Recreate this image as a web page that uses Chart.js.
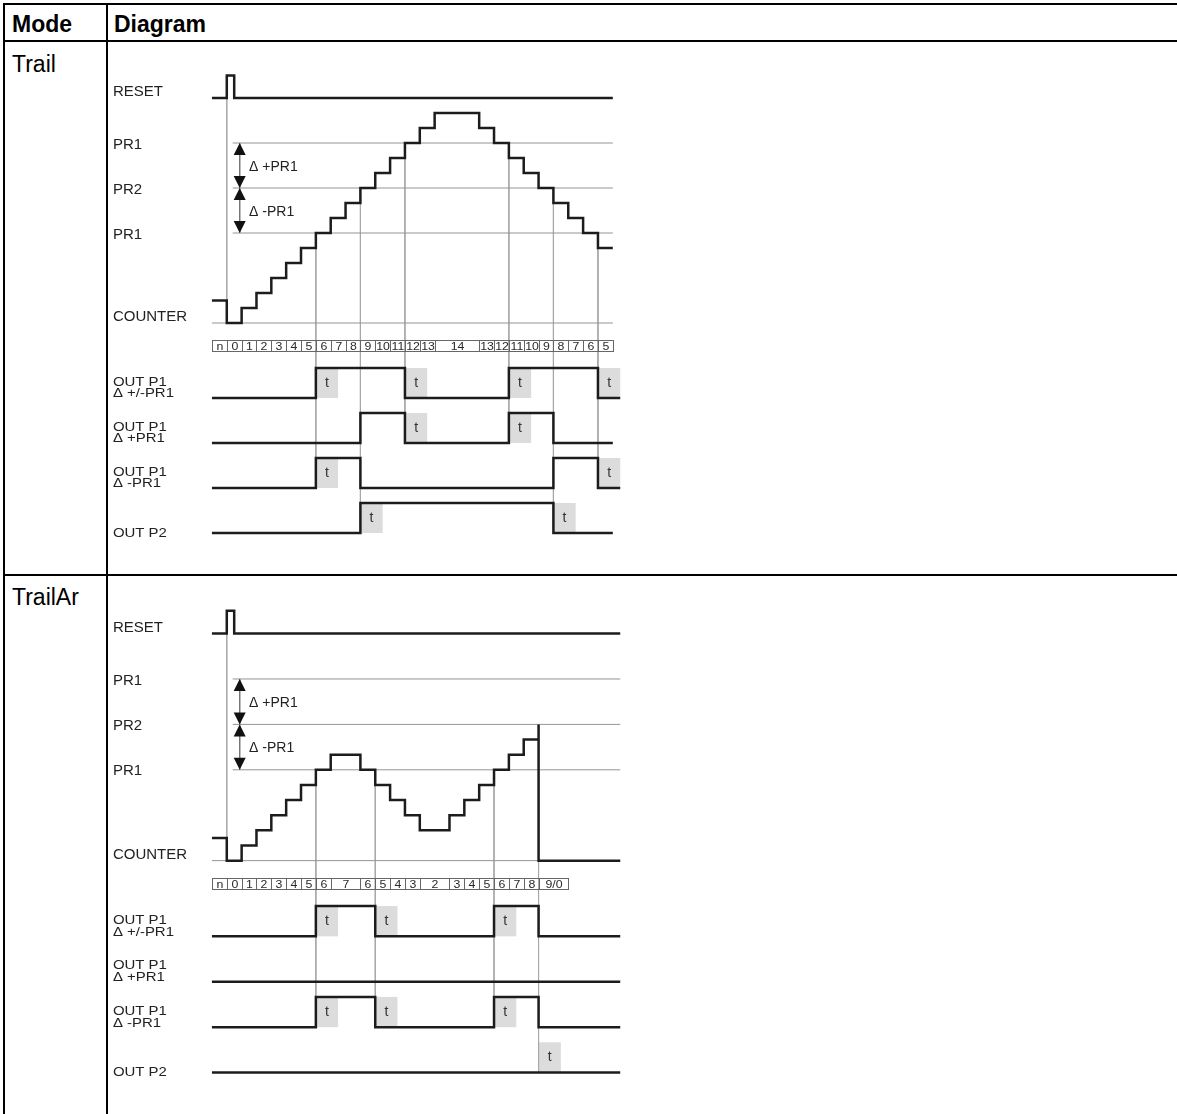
<!DOCTYPE html>
<html>
<head>
<meta charset="utf-8">
<script src="https://cdn.jsdelivr.net/npm/chart.js@4.4.1/dist/chart.umd.min.js"></script>
<style>
  html, body { margin: 0; padding: 0; background: #fff; }
  #page { position: relative; width: 1177px; height: 1114px; overflow: hidden; font-family: Arial, "Liberation Sans", sans-serif; color: #000; }
  .rule { position: absolute; background: #000; }
  .cell { position: absolute; font-size: 23px; line-height: 1; white-space: nowrap; }
  .head { font-weight: bold; }
  canvas { position: absolute; }
</style>
</head>
<body>
<div id="page">
  <div class="rule" style="left:3px; top:3px; width:1174px; height:2px"></div>
  <div class="rule" style="left:3px; top:40px; width:1174px; height:2px"></div>
  <div class="rule" style="left:3px; top:574px; width:1174px; height:2px"></div>
  <div class="rule" style="left:3px; top:3px; width:2px; height:1111px"></div>
  <div class="rule" style="left:106px; top:3px; width:2px; height:1111px"></div>
  <div class="cell head" style="left:12px; top:13px">Mode</div>
  <div class="cell head" style="left:114px; top:13px">Diagram</div>
  <div class="cell" style="left:12px; top:53px">Trail</div>
  <div class="cell" style="left:12px; top:586px">TrailAr</div>
  <canvas id="chartTrail" width="1069" height="540" style="left:108px; top:38px"></canvas>
  <canvas id="chartTrailAr" width="1069" height="545" style="left:108px; top:573px"></canvas>
</div>
<script>
// values (x = clock periods, y = counter counts)
const thresholdLevels = [12, 9, 6];
const thresholdNames = ['PR1', 'PR2', 'PR1'];
const outputNames = [['OUT P1', 'Δ +/-PR1'], ['OUT P1', 'Δ +PR1'], ['OUT P1', 'Δ -PR1'], ['OUT P2']];
const prevCount = 1.5; // the "n" level before reset

// Trail
const trailCounts = ['n', 0, 1, 2, 3, 4, 5, 6, 7, 8, 9, 10, 11, 12, 13, 14, 13, 12, 11, 10, 9, 8, 7, 6, 5];
const trailSpans = [1, 1, 1, 1, 1, 1, 1, 1, 1, 1, 1, 1, 1, 1, 1, 3, 1, 1, 1, 1, 1, 1, 1, 1, 1];
const trailReset = [[0, 0], [1, 1], [1.5, 0], [27, 0]];
const trailOutPM = [[0, 0], [7, 1], [13, 0], [20, 1], [26, 0], [27.5, 0]];
const trailOutPlus = [[0, 0], [10, 1], [13, 0], [20, 1], [23, 0], [27, 0]];
const trailOutMinus = [[0, 0], [7, 1], [10, 0], [23, 1], [26, 0], [27.5, 0]];
const trailOutP2 = [[0, 0], [10, 1], [23, 0], [27, 0]];
const trailTimers = [[7, 13, 20, 26], [13, 20], [7, 26], [10, 23]];
const trailGuides = [[7, 6], [10, 9], [13, 12], [20, 12], [23, 9], [26, 6]];
const trailEnd = 27;

// TrailAr
const trailArCounts = ['n', 0, 1, 2, 3, 4, 5, 6, 7, 6, 5, 4, 3, 2, 3, 4, 5, 6, 7, 8, '9/0'];
const trailArSpans = [1, 1, 1, 1, 1, 1, 1, 1, 2, 1, 1, 1, 1, 2, 1, 1, 1, 1, 1, 1, 2];
const trailArReset = [[0, 0], [1, 1], [1.5, 0], [27.5, 0]];
const trailArOutPM = [[0, 0], [7, 1], [11, 0], [19, 1], [22, 0], [27.5, 0]];
const trailArOutPlus = [[0, 0], [27.5, 0]];
const trailArOutMinus = [[0, 0], [7, 1], [11, 0], [19, 1], [22, 0], [27.5, 0]];
const trailArOutP2 = [[0, 0], [27.5, 0]];
const trailArTimers = [[7, 11, 19], [], [7, 11, 19], [22]];
const trailArGuides = [[7, 6], [11, 6], [19, 6], [22, 9]];
const trailArEnd = 27.5;

const ROW_BASE = [-5, -8, -11, -14];
const RESET_BASE = 15;
const FONT = 'Arial, "Liberation Sans", sans-serif';
const INK = '#1c1c1c';

function counterPoints(counts, spans, end) {
  const pts = [];
  let x = 0;
  counts.forEach((c, i) => {
    if (c === 'n') {
      pts.push({ x, y: prevCount });
    } else if (typeof c === 'string') {
      c.split('/').forEach((v) => pts.push({ x, y: Number(v) }));
    } else {
      pts.push({ x, y: c });
    }
    x += spans[i];
  });
  pts.push({ x: end, y: pts[pts.length - 1].y });
  return pts;
}

function thick(data) {
  return { data, showLine: true, pointRadius: 0, borderColor: INK, borderWidth: 2.5, stepped: 'before', fill: false };
}
function thin(data, color) {
  return { data, showLine: true, pointRadius: 0, borderColor: color || '#949494', borderWidth: 1, fill: false };
}

// text squeezed a little in height, like the scanned labels
function wideText(ctx, text, x, y, stretch) {
  ctx.save();
  ctx.translate(x, y);
  ctx.scale(stretch, 1);
  ctx.fillText(text, 0, 0);
  ctx.restore();
}

function buildDiagram(canvasId, d) {
  const datasets = [];
  datasets.push(thick(counterPoints(d.counts, d.spans, d.end)));
  datasets.push(thick(d.reset.map(([x, v]) => ({ x, y: RESET_BASE + 1.5 * v }))));
  d.outputs.forEach((out, r) => {
    datasets.push(thick(out.map(([x, v]) => ({ x, y: ROW_BASE[r] + 2 * v }))));
  });

  // threshold lines and counter floor
  thresholdLevels.forEach((lv) => datasets.push(thin([{ x: 1.4, y: lv }, { x: d.end, y: lv }])));
  datasets.push(thin([{ x: 0, y: 0 }, { x: d.end, y: 0 }]));
  // reset guide
  const rx = d.reset[1][0];
  datasets.push(thin([{ x: rx, y: RESET_BASE }, { x: rx, y: 0 }], '#a8a8a8'));
  // guides down to the lowest output that switches there
  d.guides.forEach(([gx, top]) => {
    let bottom = top;
    d.outputs.forEach((out, r) => {
      const edge = out.slice(1, -1).some(([x]) => x === gx) || d.timers[r].includes(gx);
      if (edge) bottom = Math.min(bottom, ROW_BASE[r]);
    });
    datasets.push(thin([{ x: gx, y: top }, { x: gx, y: bottom }], '#a8a8a8'));
  });
  // arrow stem
  datasets.push(thin([{ x: 1.87, y: thresholdLevels[0] }, { x: 1.87, y: thresholdLevels[2] }], '#777'));

  const decor = {
    id: 'decor',
    beforeDatasetsDraw(chart) {
      const { ctx } = chart;
      const sx = chart.scales.x, sy = chart.scales.y;
      ctx.save();
      ctx.fillStyle = '#dcdcdc';
      d.timers.forEach((list, r) => {
        list.forEach((tx) => {
          const x0 = sx.getPixelForValue(tx), x1 = sx.getPixelForValue(tx + 1.5);
          const y0 = sy.getPixelForValue(ROW_BASE[r] + 2), y1 = sy.getPixelForValue(ROW_BASE[r]);
          ctx.fillRect(x0, y0, x1 - x0, y1 - y0);
        });
      });
      ctx.restore();
    },
    afterDatasetsDraw(chart) {
      const { ctx } = chart;
      const sx = chart.scales.x, sy = chart.scales.y;
      const px = (v) => sx.getPixelForValue(v);
      const py = (v) => sy.getPixelForValue(v);
      ctx.save();

      // strip of counter values
      let x = 0;
      ctx.strokeStyle = '#666';
      ctx.lineWidth = 1;
      ctx.fillStyle = '#2a2a2a';
      ctx.font = '11px ' + FONT;
      ctx.textAlign = 'center';
      ctx.textBaseline = 'middle';
      const st = Math.round(py(-1.12)) + 0.5, sb = Math.round(py(-1.9)) + 0.5;
      d.counts.forEach((c, i) => {
        const x0 = Math.round(px(x)) + 0.5, x1 = Math.round(px(x + d.spans[i])) + 0.5;
        ctx.strokeRect(x0, st, x1 - x0, sb - st);
        ctx.save();
        ctx.translate((x0 + x1) / 2, (st + sb) / 2 + 0.5);
        ctx.scale(1.12, 1);
        ctx.fillText(String(c), 0, 0);
        ctx.restore();
        x += d.spans[i];
      });

      // timer letters
      ctx.font = '14px ' + FONT;
      ctx.fillStyle = '#333';
      d.timers.forEach((list, r) => {
        list.forEach((tx) => ctx.fillText('t', px(tx + 0.75), py(ROW_BASE[r] + 1)));
      });

      // arrows between thresholds
      ctx.fillStyle = '#111';
      const ax = px(1.87);
      const arrow = (lv, dir) => {
        const tip = py(lv);
        ctx.beginPath();
        ctx.moveTo(ax, tip);
        ctx.lineTo(ax - 6, tip - dir * 12);
        ctx.lineTo(ax + 6, tip - dir * 12);
        ctx.closePath();
        ctx.fill();
      };
      arrow(thresholdLevels[0], -1);
      arrow(thresholdLevels[1], 1);
      arrow(thresholdLevels[1], -1);
      arrow(thresholdLevels[2], 1);

      ctx.textAlign = 'left';
      ctx.fillStyle = '#222';
      ctx.font = '14px ' + FONT;
      ctx.fillText('Δ +PR1', px(2.5), py((thresholdLevels[0] + thresholdLevels[1]) / 2 - 0.1));
      ctx.fillText('Δ -PR1', px(2.5), py((thresholdLevels[1] + thresholdLevels[2]) / 2 - 0.1));

      // left labels
      const lx = px(-6.67);
      ctx.font = '15px ' + FONT;
      ctx.fillText('RESET', lx, py(RESET_BASE + 0.4));
      thresholdLevels.forEach((lv, i) => ctx.fillText(thresholdNames[i], lx, py(lv - 0.1)));
      ctx.fillText('COUNTER', lx, py(0.4));
      ctx.font = '13px ' + FONT;
      outputNames.forEach((names, r) => {
        if (names.length === 1) {
          wideText(ctx, names[0], lx, py(ROW_BASE[r]), 1.15);
        } else {
          wideText(ctx, names[0], lx, py(ROW_BASE[r] + 1.05), 1.15);
          wideText(ctx, names[1], lx, py(ROW_BASE[r] + 0.28), 1.15);
        }
      });
      ctx.restore();
    }
  };

  new Chart(document.getElementById(canvasId), {
    type: 'scatter',
    data: { datasets },
    options: {
      responsive: false,
      animation: false,
      events: [],
      layout: { padding: 0 },
      plugins: { legend: { display: false }, tooltip: { enabled: false } },
      scales: {
        x: { type: 'linear', display: false, min: -7, max: 65 },
        y: { type: 'linear', display: false, min: -17, max: 19 }
      }
    },
    plugins: [decor]
  });
}

buildDiagram('chartTrail', {
  counts: trailCounts,
  spans: trailSpans,
  reset: trailReset,
  outputs: [trailOutPM, trailOutPlus, trailOutMinus, trailOutP2],
  timers: trailTimers,
  guides: trailGuides,
  end: trailEnd
});

buildDiagram('chartTrailAr', {
  counts: trailArCounts,
  spans: trailArSpans,
  reset: trailArReset,
  outputs: [trailArOutPM, trailArOutPlus, trailArOutMinus, trailArOutP2],
  timers: trailArTimers,
  guides: trailArGuides,
  end: trailArEnd
});
</script>
</body>
</html>
